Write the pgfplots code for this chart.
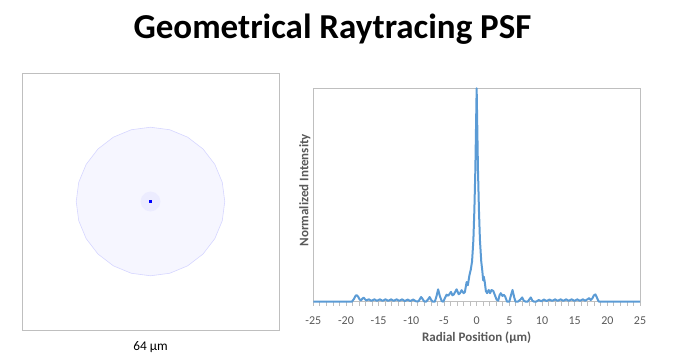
\documentclass[border=0pt]{standalone}
\usepackage{pgfplots}
\pgfplotsset{compat=1.18}
\usepackage{fontspec}
\setmainfont{Carlito}
\definecolor{axisgray}{RGB}{191,191,191}
\definecolor{labelgray}{RGB}{89,89,89}
\definecolor{curveblue}{RGB}{91,155,213}
\definecolor{diskfill}{RGB}{246,246,255}
\definecolor{diskedge}{RGB}{214,214,255}
\definecolor{hazefill}{RGB}{236,236,255}
\begin{document}
\begin{tikzpicture}[x=1pt,y=1pt]
\path[use as bounding box] (0,0) rectangle (692,362);
\node[anchor=base, font=\fontsize{35}{42}\selectfont\bfseries] at (332.5,323.7) {Geometrical Raytracing PSF};

% Left: spot diagram
\begin{axis}[
  at={(22pt,32pt)}, anchor=south west,
  width=257pt, height=257pt, scale only axis,
  xmin=-32, xmax=32, ymin=-32, ymax=32,
  xtick=\empty, ytick=\empty,
  axis line style={draw=axisgray, line width=0.9pt},
  xlabel={64 µm},
  xlabel style={at={(axis description cs:0.5,-0.08)}, anchor=base, inner sep=0pt, font=\fontsize{13.3}{15}\selectfont},
]
\addplot[fill=diskfill, draw=diskedge, line width=0.6pt] coordinates {
(18.5,0) (17.87,4.79) (16.02,9.25) (13.08,13.08) (9.25,16.02) (4.79,17.87)
(0,18.5) (-4.79,17.87) (-9.25,16.02) (-13.08,13.08) (-16.02,9.25) (-17.87,4.79)
(-18.5,0) (-17.87,-4.79) (-16.02,-9.25) (-13.08,-13.08) (-9.25,-16.02) (-4.79,-17.87)
(0,-18.5) (4.79,-17.87) (9.25,-16.02) (13.08,-13.08) (16.02,-9.25) (17.87,-4.79)
} -- cycle;
\addplot[fill=hazefill, draw=none] coordinates {
(2.5,0) (2.17,1.25) (1.25,2.17) (0,2.5) (-1.25,2.17) (-2.17,1.25)
(-2.5,0) (-2.17,-1.25) (-1.25,-2.17) (0,-2.5) (1.25,-2.17) (2.17,-1.25)
} -- cycle;
\addplot[only marks, mark=square*, mark size=1pt, blue] coordinates {(0,0)};
\end{axis}

% Right: radial profile
\begin{axis}[
  at={(313.3pt,60.3pt)}, anchor=south west,
  width=326.7pt, height=213.4pt, scale only axis,
  xmin=-25, xmax=25, ymin=0, ymax=1,
  xtick={-25,-20,-15,-10,-5,0,5,10,15,20,25},
  xticklabels={-25,-20,-15,-10,-5,0,5,10,15,20,25},
  minor x tick num=4,
  ytick=\empty,
  xtick pos=left,
  tick align=outside,
  major tick length=4pt, minor tick length=4pt,
  axis line style={draw=axisgray, line width=0.8pt},
  every tick/.style={draw=axisgray, line width=0.8pt},
  minor tick style={draw=axisgray, line width=0.8pt},
  xticklabel style={font=\fontsize{12}{14}\selectfont, text=labelgray, anchor=base, yshift=-18.5pt},
  xlabel={Radial Position (µm)},
  ylabel={Normalized Intensity},
  xlabel style={at={(axis description cs:0.5,-0.185)}, anchor=base, inner sep=0pt, font=\fontsize{13}{15}\selectfont\bfseries, text=labelgray},
  ylabel style={at={(axis description cs:-0.008,0.523)}, anchor=south, inner sep=0pt, font=\fontsize{13}{15}\selectfont\bfseries, text=labelgray},
  clip=false,
]
\addplot[curveblue, line width=2pt, line join=round] coordinates {
(-25,0) (-19.1,0) (-18.8,0.012) (-18.55,0.027) (-18.37,0.031) (-18.15,0.024)
(-17.9,0.01) (-17.7,0.006) (-17.5,0.014) (-17.3,0.019) (-17.1,0.012) (-16.9,0.006)
(-16.5,0.011) (-16.1,0.004) (-15.65,0.011) (-15.25,0.004) (-14.8,0.011) (-14.4,0.004)
(-13.95,0.011) (-13.55,0.004) (-13.1,0.011) (-12.7,0.004) (-12.25,0.011) (-11.85,0.004)
(-11.4,0.011) (-11.0,0.003) (-10.55,0.010) (-10.15,0.003) (-9.7,0.010) (-9.3,0.002)
(-8.9,0.002) (-8.7,0.012) (-8.5,0.022) (-8.3,0.014) (-8.05,0.002) (-7.75,0.0)
(-7.45,0.01) (-7.2,0.022) (-6.95,0.008) (-6.7,0.0) (-6.4,0.0) (-6.15,0.025)
(-5.9,0.058) (-5.65,0.028) (-5.35,0.003) (-5.1,0.0) (-4.85,0.018) (-4.6,0.033)
(-4.35,0.028) (-4.1,0.038) (-3.94,0.046) (-3.7,0.030) (-3.5,0.034) (-3.07,0.058)
(-2.75,0.035) (-2.55,0.040) (-2.3,0.054) (-2.0,0.040) (-1.8,0.045) (-1.54,0.092)
(-1.35,0.077) (-1.1,0.125) (-0.9,0.15) (-0.7,0.19) (-0.5,0.29) (-0.35,0.43)
(-0.2,0.62) (-0.1,0.81) (0,1.0)
(0.1,0.81) (0.2,0.62) (0.35,0.43) (0.5,0.29) (0.7,0.19) (0.88,0.14)
(1.0,0.10) (1.1,0.117) (1.25,0.09) (1.41,0.05) (1.6,0.04) (1.85,0.055)
(2.05,0.04) (2.28,0.055) (2.55,0.05) (2.8,0.03) (3.05,0.01) (3.3,0.005)
(3.5,0.03) (3.7,0.04) (3.95,0.027) (4.15,0.032) (4.35,0.025) (4.66,0.0)
(5.0,0.0) (5.25,0.03) (5.49,0.055) (5.75,0.02) (5.95,0.0) (6.3,0.0)
(6.7,0.01) (6.96,0.02) (7.2,0.005) (7.5,0.0) (7.8,0.0) (8.05,0.01)
(8.29,0.02) (8.55,0.004) (8.8,0.0) (9.1,0.0)
(9.5,0.008) (9.9,0.002) (10.3,0.010) (10.7,0.003) (11.15,0.010) (11.55,0.004)
(12.0,0.011) (12.4,0.004) (12.85,0.011) (13.25,0.004) (13.7,0.011) (14.1,0.004)
(14.55,0.011) (14.95,0.004) (15.4,0.011) (15.8,0.004) (16.25,0.011) (16.6,0.005)
(17.0,0.012) (17.2,0.017) (17.45,0.008) (17.7,0.015) (17.95,0.030) (18.18,0.034)
(18.4,0.02) (18.6,0.005) (18.75,0) (25,0)
};
\end{axis}
\end{tikzpicture}
\end{document}
